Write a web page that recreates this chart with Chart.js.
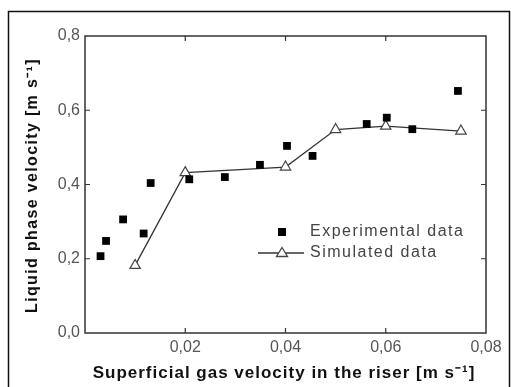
<!DOCTYPE html>
<html>
<head>
<meta charset="utf-8">
<script src="https://cdn.jsdelivr.net/npm/chart.js@4.4.0/dist/chart.umd.min.js"></script>
<style>html,body{margin:0;padding:0;background:#fff}</style>
</head>
<body>
<canvas id="riserChart" width="511" height="387"></canvas>
<script>
// measured points
const expGasVel = [0.0031, 0.0042, 0.0076, 0.0117, 0.0131, 0.0208, 0.0279, 0.0349, 0.0403, 0.0454, 0.0562, 0.0602, 0.0653, 0.0744];
const expLiqVel = [0.207, 0.248, 0.306, 0.268, 0.404, 0.414, 0.420, 0.453, 0.504, 0.477, 0.563, 0.580, 0.549, 0.652];

// model output
const simGasVel = [0.010, 0.020, 0.040, 0.050, 0.060, 0.075];
const simLiqVel = [0.182, 0.432, 0.447, 0.548, 0.557, 0.544];

const xTickValues = [0.02, 0.04, 0.06];
const yTickValues = [0.2, 0.4, 0.6];

const xTitle = 'Superficial gas velocity in the riser [m s⁻¹]';
const yTitle = 'Liquid phase velocity [m s⁻¹]';

const FONT = "'Liberation Sans', Arial, sans-serif";

const toPoints = (xs, ys) => xs.map((x, i) => ({ x: x, y: ys[i] }));

const framePlugin = {
    id: 'frame',
    beforeInit(chart) {
        chart.ctx.letterSpacing = '1px';
    },
    afterDraw(chart) {
        const ctx = chart.ctx;
        const a = chart.chartArea;
        const xs = chart.scales.x, ys = chart.scales.y;
        ctx.save();
        // outer figure border
        ctx.strokeStyle = '#111';
        ctx.lineWidth = 1.5;
        ctx.strokeRect(8.5, 11.5, 501, 400);
        // plot box
        ctx.strokeStyle = '#333';
        ctx.lineWidth = 1.5;
        ctx.strokeRect(a.left, a.top, a.right - a.left, a.bottom - a.top);
        // inward ticks on all sides
        ctx.lineWidth = 1.2;
        ctx.beginPath();
        xTickValues.forEach(v => {
            const px = xs.getPixelForValue(v);
            ctx.moveTo(px, a.bottom); ctx.lineTo(px, a.bottom - 5);
            ctx.moveTo(px, a.top); ctx.lineTo(px, a.top + 5);
        });
        yTickValues.forEach(v => {
            const py = ys.getPixelForValue(v);
            ctx.moveTo(a.left, py); ctx.lineTo(a.left + 5, py);
            ctx.moveTo(a.right, py); ctx.lineTo(a.right - 5, py);
        });
        ctx.stroke();

        // axis titles
        ctx.fillStyle = '#111';
        ctx.textAlign = 'center';
        ctx.textBaseline = 'middle';
        ctx.font = 'bold 17px ' + FONT;
        ctx.letterSpacing = '1px';
        ctx.fillText(xTitle, 284, 373);
        ctx.save();
        ctx.translate(33, 185.5);
        ctx.rotate(-Math.PI / 2);
        ctx.font = 'bold 16px ' + FONT;
        ctx.letterSpacing = '1.35px';
        ctx.fillText(yTitle, 0, 0);
        ctx.restore();

        // legend
        const lx = 282, ly1 = 232, ly2 = 253;
        ctx.fillStyle = '#000';
        ctx.fillRect(lx - 4, ly1 - 4, 8, 8);
        ctx.strokeStyle = '#333';
        ctx.lineWidth = 1.3;
        ctx.beginPath();
        ctx.moveTo(258, ly2); ctx.lineTo(304, ly2);
        ctx.stroke();
        ctx.fillStyle = '#fff';
        ctx.strokeStyle = '#444';
        ctx.beginPath();
        ctx.moveTo(lx, ly2 - 5.5);
        ctx.lineTo(lx + 5.5, ly2 + 3.5);
        ctx.lineTo(lx - 5.5, ly2 + 3.5);
        ctx.closePath();
        ctx.fill(); ctx.stroke();
        ctx.fillStyle = '#444';
        ctx.font = '16px ' + FONT;
        ctx.letterSpacing = '1.5px';
        ctx.textAlign = 'left';
        ctx.fillText('Experimental data', 310, ly1);
        ctx.fillText('Simulated data', 310, ly2);
        ctx.restore();
    }
};

new Chart(document.getElementById('riserChart'), {
    type: 'scatter',
    data: {
        datasets: [
            {
                label: 'Experimental data',
                data: toPoints(expGasVel, expLiqVel),
                pointStyle: 'rect',
                pointRadius: 5.5,
                backgroundColor: '#000',
                borderColor: '#000',
                borderWidth: 0
            },
            {
                label: 'Simulated data',
                data: toPoints(simGasVel, simLiqVel),
                showLine: true,
                borderColor: '#333',
                borderWidth: 1.3,
                pointStyle: 'triangle',
                pointRadius: 6,
                pointBackgroundColor: '#fff',
                pointBorderColor: '#444',
                pointBorderWidth: 1.2
            }
        ]
    },
    options: {
        responsive: false,
        animation: false,
        layout: { padding: { top: 36, right: 25, left: 0, bottom: 0 } },
        plugins: {
            legend: { display: false },
            tooltip: { enabled: false }
        },
        scales: {
            x: {
                type: 'linear',
                min: 0,
                max: 0.08,
                afterFit: s => { s.height = 54; },
                grid: { display: false, drawTicks: false },
                border: { display: false },
                ticks: {
                    stepSize: 0.02,
                    padding: 5,
                    color: '#555',
                    font: { family: FONT, size: 16 },
                    callback: v => v === 0 ? '' : v.toFixed(2).replace('.', ',')
                }
            },
            y: {
                min: 0,
                max: 0.8,
                afterFit: s => { s.width = 85; },
                grid: { display: false, drawTicks: false },
                border: { display: false },
                ticks: {
                    stepSize: 0.2,
                    padding: 5,
                    color: '#555',
                    font: { family: FONT, size: 16 },
                    callback: v => v.toFixed(1).replace('.', ',')
                }
            }
        }
    },
    plugins: [framePlugin]
});
</script>
</body>
</html>
